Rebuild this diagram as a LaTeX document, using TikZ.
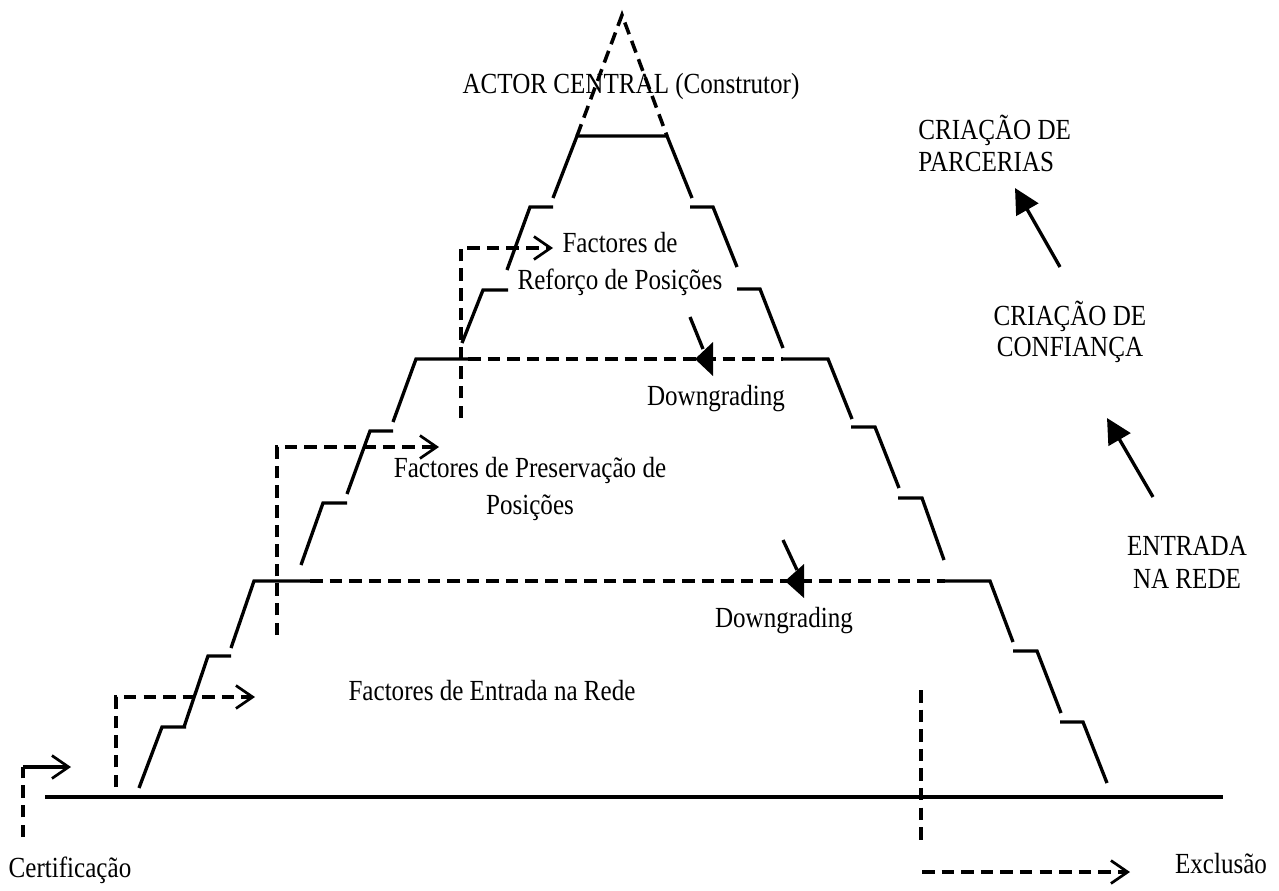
\documentclass[tikz,border=0pt]{standalone}
\usepackage{fontspec}
\setmainfont[FakeStretch=0.86]{Liberation Serif}
\usetikzlibrary{arrows.meta}

\begin{document}
\begin{tikzpicture}[x=0.48pt,y=-0.48pt,
	stair/.style={line width=1.6pt},
	dashline/.style={line width=1.7pt,dash pattern=on 6pt off 3.4pt},
	opentip/.style={-{Straight Barb[length=8pt,width=11pt,line width=1.3pt]}},
	bigtip/.style={-{Triangle[length=12pt,width=12pt]}},
	lbl/.style={font=\fontsize{14}{15.8}\selectfont,inner sep=0pt,align=center}]
	\useasboundingbox (0,0) rectangle (1279,890);
	\draw[stair] (45,797) -- (1223,797);
	% level 1
	\draw[stair] (139,788) -- (162,727) -- (186,727);
	\draw[stair] (184,727) -- (208,656) -- (231,656);
	\draw[stair] (231,648) -- (254,581) -- (310,581);
	\draw[dashline] (310,581) -- (945,581);
	\draw[stair] (945,581) -- (990,581) -- (1013,642);
	\draw[stair] (1013,651) -- (1037,651) -- (1061,713);
	\draw[stair] (1060,722) -- (1083,722) -- (1107,783);
	% level 2
	\draw[stair] (301,565) -- (323,503) -- (347,503);
	\draw[stair] (347,494) -- (370,431) -- (393,431);
	\draw[stair] (393,422) -- (416,359) -- (468,359);
	\draw[dashline] (468,359) -- (783,359);
	\draw[stair] (783,359) -- (828,359) -- (852,419);
	\draw[stair] (851,427) -- (875,427) -- (899,488);
	\draw[stair] (898,498) -- (922,498) -- (944,560);
	% level 3
	\draw[stair] (462,343) -- (483,290) -- (508,290);
	\draw[stair] (507,270) -- (530,207) -- (553,207);
	\draw[stair] (553,198) -- (577,136) -- (667,136) -- (692,198);
	\draw[stair] (690,207) -- (713,207) -- (737,267);
	\draw[stair] (737,289) -- (760,289) -- (783,348);
	\draw[dashline] (577,136) -- (622,15) -- (667,136);
	% downgrading
	\draw[stair] (690,317) -- (703,349);
	\fill (695,359) -- (713,342) -- (713,376) -- cycle;
	\draw[stair] (783,540) -- (797,570);
	\fill (785,581) -- (804,564) -- (804,598) -- cycle;

	\node[lbl,anchor=base] (actor) at (631,93) {ACTOR CENTRAL (Construtor)};
	\node[lbl,align=left,anchor=west,font=\fontsize{14}{15.4}\selectfont] (parc) at (918,143) {CRIAÇÃO DE\\PARCERIAS};
	\node[lbl,font=\fontsize{14}{14.9}\selectfont] (conf) at (1070,332) {CRIAÇÃO DE\\CONFIANÇA};
	\node[lbl] (rede) at (1187,562) {ENTRADA\\NA REDE};
	\node[lbl,font=\fontsize{14}{17.8}\selectfont] (reforco) at (620,264) {Factores de\\Reforço de Posições};
	\node[lbl,font=\fontsize{14}{18.2}\selectfont] (preserv) at (530,489) {Factores de Preservação de\\Posições};
	\node[lbl,anchor=base] (entrada) at (492,700) {Factores de Entrada na Rede};
	\node[lbl,anchor=base] (down1) at (716,405) {Downgrading};
	\node[lbl,anchor=base] (down2) at (784,627) {Downgrading};
	\node[lbl,anchor=base] (cert) at (70,877) {Certificação};
	\node[lbl,anchor=base] (excl) at (1221,873) {Exclusão};

	\coordinate (c1) at (23,837); \coordinate (c1t) at (23,767); \coordinate (c1e) at (71,767);
	\coordinate (c2) at (116,787); \coordinate (c2t) at (116,697); \coordinate (c2e) at (255,697);
	\coordinate (c3) at (277,635); \coordinate (c3t) at (277,447); \coordinate (c3e) at (439,447);
	\coordinate (c4) at (461,418); \coordinate (c4t) at (461,248); \coordinate (c4e) at (553,248);
	\coordinate (x1) at (921,690); \coordinate (x2) at (921,845);
	\coordinate (x3) at (922,872); \coordinate (x4) at (1130,872);
	\draw[dashline] (c1) -- (c1t);
	\draw[stair,opentip] (c1t) -- (c1e);
	\draw[dashline,opentip] (c2) -- (c2t) -- (c2e);
	\draw[dashline,opentip] (c3) -- (c3t) -- (c3e);
	\draw[dashline,opentip] (c4) -- (c4t) -- (c4e);
	\draw[dashline] (x1) -- (x2);
	\draw[dashline,opentip] (x3) -- (x4);

	\coordinate (a1) at (1153,497); \coordinate (a2) at (1107,418);
	\coordinate (a3) at (1060,267); \coordinate (a4) at (1015,188);
	\draw[stair,bigtip] (a1) -- (a2);
	\draw[stair,bigtip] (a3) -- (a4);
\end{tikzpicture}
\end{document}
